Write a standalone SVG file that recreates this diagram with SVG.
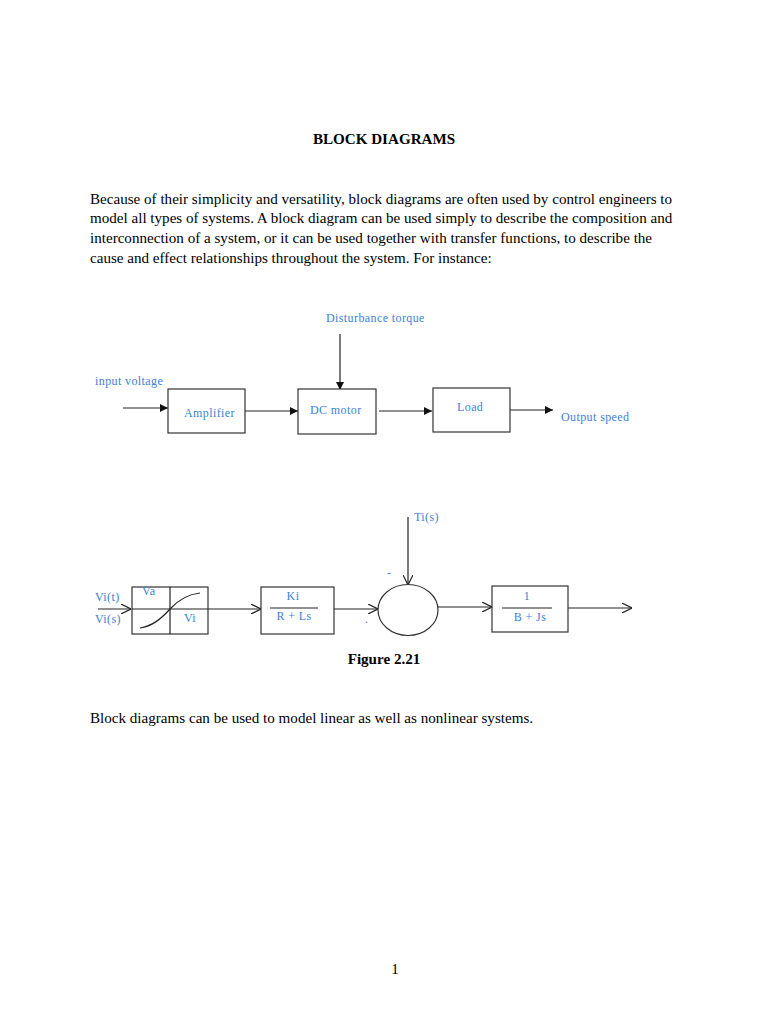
<svg xmlns="http://www.w3.org/2000/svg" width="768" height="1024" viewBox="0 0 768 1024">
<style>
.body{font-family:"Liberation Serif","Times New Roman",serif;font-size:15.1px;fill:#000}
.bold{font-weight:bold}
.lbl{font-family:"Liberation Serif","Times New Roman",serif;font-size:12px;fill:#3b82d6;letter-spacing:0.4px}
.box{fill:#fff;stroke:#333;stroke-width:1.2}
.ln{stroke:#222;stroke-width:1.2;fill:none}
</style>
<defs>
<marker id="fa" viewBox="0 0 10 10" refX="10" refY="5" markerWidth="8" markerHeight="8" markerUnits="userSpaceOnUse" orient="auto"><path d="M0,0 L10,5 L0,10 Z" fill="#111"/></marker>
<marker id="oa" viewBox="0 0 10 10" refX="10" refY="5" markerWidth="10" markerHeight="10" markerUnits="userSpaceOnUse" orient="auto"><path d="M0,0 L10,5 L0,10" fill="none" stroke="#222" stroke-width="1.2"/></marker>
</defs>
<rect width="768" height="1024" fill="#fff"/>
<text class="body bold" x="384" y="144" text-anchor="middle">BLOCK DIAGRAMS</text>
<text class="body" x="90" y="204">Because of their simplicity and versatility, block diagrams are often used by control engineers to</text>
<text class="body" x="90" y="223">model all types of systems. A block diagram can be used simply to describe the composition and</text>
<text class="body" x="90" y="243">interconnection of a system, or it can be used together with transfer functions, to describe the</text>
<text class="body" x="90" y="263">cause and effect relationships throughout the system. For instance:</text>

<g id="connectors">
<line class="ln" x1="340" y1="334" x2="340" y2="390" marker-end="url(#fa)"/>
<line class="ln" x1="123" y1="408" x2="168" y2="408" marker-end="url(#fa)"/>
<line class="ln" x1="245" y1="411" x2="298" y2="411" marker-end="url(#fa)"/>
<line class="ln" x1="379" y1="411" x2="432" y2="411" marker-end="url(#fa)"/>
<line class="ln" x1="510" y1="410" x2="553" y2="410" marker-end="url(#fa)"/>
<line class="ln" x1="98" y1="609" x2="131" y2="609" marker-end="url(#oa)"/>
<line class="ln" x1="208" y1="609" x2="261" y2="609" marker-end="url(#oa)"/>
<line class="ln" x1="334" y1="609" x2="378" y2="609" marker-end="url(#oa)"/>
<line class="ln" x1="408" y1="517" x2="408" y2="585" marker-end="url(#oa)"/>
<line class="ln" x1="438" y1="607" x2="492" y2="607" marker-end="url(#oa)"/>
<line class="ln" x1="568" y1="608" x2="632" y2="608" marker-end="url(#oa)"/>
</g>

<g id="labels-top">
<text class="lbl" x="326" y="322">Disturbance torque</text>
<text class="lbl" x="95" y="385">input voltage</text>
<text class="lbl" x="561" y="421">Output speed</text>
</g>
<g id="amplifier">
<rect class="box" x="168" y="389" width="77" height="44"/>
<text class="lbl" x="184" y="417">Amplifier</text>
</g>
<g id="dcmotor">
<rect class="box" x="298" y="389" width="78" height="45"/>
<text class="lbl" x="310" y="414">DC motor</text>
</g>
<g id="load">
<rect class="box" x="433" y="388" width="77" height="44"/>
<text class="lbl" x="457" y="411">Load</text>
</g>

<g id="nonlinear">
<rect class="box" x="132" y="587" width="76" height="47"/>
<line class="ln" x1="170" y1="587" x2="170" y2="634"/>
<line class="ln" x1="132" y1="609" x2="208" y2="609"/>
<path class="ln" d="M140,628 C152,626 160,620 170,609 C180,598 190,594 200,593"/>
<text class="lbl" x="142" y="595">Va</text>
<text class="lbl" x="184" y="622">Vi</text>
<text class="lbl" x="95" y="601">Vi(t)</text>
<text class="lbl" x="95" y="623">Vi(s)</text>
</g>
<g id="electrical">
<rect class="box" x="261" y="587" width="73" height="47"/>
<text class="lbl" x="293" y="600" text-anchor="middle">Ki</text>
<line class="ln" x1="270" y1="608" x2="318" y2="608"/>
<text class="lbl" x="294" y="620" text-anchor="middle">R + Ls</text>
</g>
<g id="sum">
<ellipse cx="408" cy="610" rx="30" ry="25.5" fill="#fff" stroke="#333" stroke-width="1.2"/>
<text class="lbl" x="387" y="577">-</text>
<text class="lbl" x="365" y="623">.</text>
<text class="lbl" x="414" y="521">Ti(s)</text>
</g>
<g id="mechanical">
<rect class="box" x="492" y="586" width="76" height="46"/>
<text class="lbl" x="527" y="600" text-anchor="middle">1</text>
<line class="ln" x1="502" y1="608" x2="552" y2="608"/>
<text class="lbl" x="530" y="621" text-anchor="middle">B + Js</text>
</g>

<text class="body bold" x="384" y="664" text-anchor="middle">Figure 2.21</text>
<text class="body" x="90" y="723">Block diagrams can be used to model linear as well as nonlinear systems.</text>
<text class="body" x="395" y="974" text-anchor="middle">1</text>
</svg>
